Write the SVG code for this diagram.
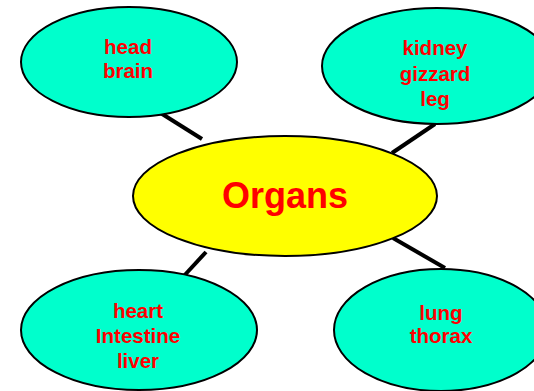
<svg xmlns="http://www.w3.org/2000/svg" width="534" height="391" viewBox="0 0 534 391">
<style>
.leaf{fill:#00ffcc;stroke:#000;stroke-width:2}
.hub{fill:#ffff00;stroke:#000;stroke-width:2}
.t{font-family:"Liberation Sans",Arial,sans-serif;font-weight:bold;fill:#ff0000;text-anchor:middle}
.s{font-size:20.5px}
.c line{stroke:#000;stroke-width:4}
</style>
<rect width="534" height="391" fill="#fff"/>
<g class="c" id="connectors">
<line x1="159" y1="112" x2="202" y2="139"/>
<line x1="435" y1="124" x2="392" y2="153"/>
<line x1="206" y1="252" x2="182" y2="278"/>
<line x1="393" y1="238" x2="445" y2="268"/>
</g>
<g id="organs">
<ellipse class="hub" cx="285" cy="196" rx="152" ry="60"/>
<text class="t" x="285" y="208" font-size="36">Organs</text>
</g>
<g id="head">
<ellipse class="leaf" cx="129" cy="62" rx="108" ry="55"/>
<text class="t s" x="128" y="54">head</text>
<text class="t s" x="128" y="78">brain</text>
</g>
<g id="kidney">
<ellipse class="leaf" cx="437" cy="66" rx="115" ry="58"/>
<text class="t s" x="435" y="55">kidney</text>
<text class="t s" x="435" y="81">gizzard</text>
<text class="t s" x="435" y="106">leg</text>
</g>
<g id="heart">
<ellipse class="leaf" cx="139" cy="330" rx="118" ry="60"/>
<text class="t s" x="138" y="318">heart</text>
<text class="t s" x="138" y="343">Intestine</text>
<text class="t s" x="138" y="368">liver</text>
</g>
<g id="lung">
<ellipse class="leaf" cx="441" cy="330" rx="107" ry="61"/>
<text class="t s" x="441" y="320">lung</text>
<text class="t s" x="441" y="343">thorax</text>
</g>
</svg>
